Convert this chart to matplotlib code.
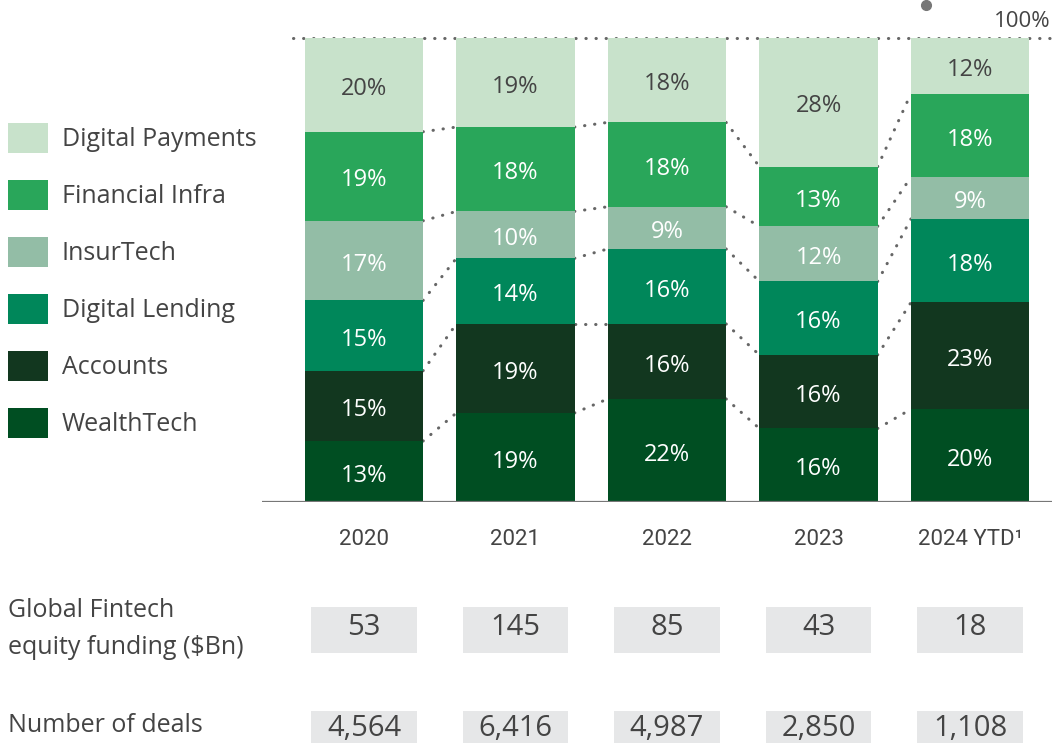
import numpy as np
import matplotlib.pyplot as plt
from matplotlib.patches import Patch, Rectangle

# data
years = ["2020", "2021", "2022", "2023", "2024 YTD¹"]
segments = ["WealthTech", "Accounts", "Digital Lending", "InsurTech", "Financial Infra", "Digital Payments"]
wealthtech = [13, 19, 22, 16, 20]
accounts = [15, 19, 16, 16, 23]
lending = [15, 14, 16, 16, 18]
insurtech = [17, 10, 9, 12, 9]
fin_infra = [19, 18, 18, 13, 18]
payments = [20, 19, 18, 28, 12]
funding = ["53", "145", "85", "43", "18"]
deals = ["4,564", "6,416", "4,987", "2,850", "1,108"]

colors = ["#004E22", "#12371F", "#00875A", "#93BDA6", "#29A65A", "#C8E2CB"]
txt = "#444444"
W, H = 1052, 743

plt.rcParams['font.family'] = ['Open Sans', 'DejaVu Sans']

fig = plt.figure(figsize=(W / 100, H / 100), dpi=100)
ax = fig.add_axes([262 / W, 1 - 502 / H, 790 / W, 464 / H])
ax.set_xlim(-0.673, 4.541)
ax.set_ylim(0, 100)
ax.axis("off")

vals = np.array([wealthtech, accounts, lending, insurtech, fin_infra, payments], dtype=float)
shares = vals / vals.sum(axis=0) * 100
x = np.arange(len(years))
bw = 0.78

bottom = np.zeros(len(years))
tops = []
for i, name in enumerate(segments):
    ax.bar(x, shares[i], bw, bottom=bottom, color=colors[i], label=name, zorder=2)
    # light segment gets dark text
    lc = txt if name == "Digital Payments" else "white"
    for j in range(len(years)):
        ax.text(x[j], bottom[j] + shares[i][j] / 2 - 0.9, "%d%%" % vals[i][j], color=lc,
                fontsize=17, ha="center", va="center", zorder=3)
    bottom = bottom + shares[i]
    tops.append(bottom.copy())

# dotted connectors between segment boundaries
dot = dict(color="#666666", lw=2.2, linestyle=(0, (0.1, 3.2)), dash_capstyle="round", zorder=1)
for t in tops[:-1]:
    for j in range(len(years) - 1):
        ax.plot([x[j] + bw / 2, x[j + 1] - bw / 2], [t[j], t[j + 1]], **dot)

ax.plot([-0.469, 4.541], [100, 100], clip_on=False, **dot)
ax.text(4.53, 103.6, "100%", fontsize=16, color=txt, ha="right", va="center", clip_on=False)
ax.plot([3.71], [107.1], "o", color="#777777", ms=7, clip_on=False)

ax.axhline(0, color="#777777", lw=1.6, zorder=4)

# year labels
for j, yr in enumerate(years):
    ax.text(x[j], -8.1, yr, fontsize=16, color=txt, ha="center", va="center",
            family=["Roboto", "DejaVu Sans"], clip_on=False)

# table rows under the bars
box_w, box_h = 0.695, 10.1
for row_y, txt_dy, row in [(-27.6, 0.5, funding), (-50.1, 1.3, deals)]:
    for j, v in enumerate(row):
        ax.add_patch(Rectangle((x[j] - box_w / 2, row_y - box_h / 2), box_w, box_h,
                               facecolor="#E6E7E8", edgecolor="none", clip_on=False))
        ax.text(x[j], row_y + txt_dy, v, fontsize=21, color=txt, ha="center", va="center", clip_on=False)

fig.text(8 / W, 1 - 629 / H, "Global Fintech\nequity funding ($Bn)", fontsize=18, color=txt,
         ha="left", va="center", linespacing=1.6)
fig.text(8 / W, 1 - 726 / H, "Number of deals", fontsize=18, color=txt, ha="left", va="center")

# legend
handles = [Patch(facecolor=colors[i], label=segments[i]) for i in range(len(segments))][::-1]
leg = fig.legend(handles=handles, loc="upper left", bbox_to_anchor=(8 / W, 1 - 123 / H),
                 frameon=False, fontsize=18, handlelength=1.6, handleheight=1.47,
                 handletextpad=0.55, labelspacing=1.08, borderpad=0, borderaxespad=0)
for t in leg.get_texts():
    t.set_color(txt)

fig.savefig("out.png", dpi=100)
